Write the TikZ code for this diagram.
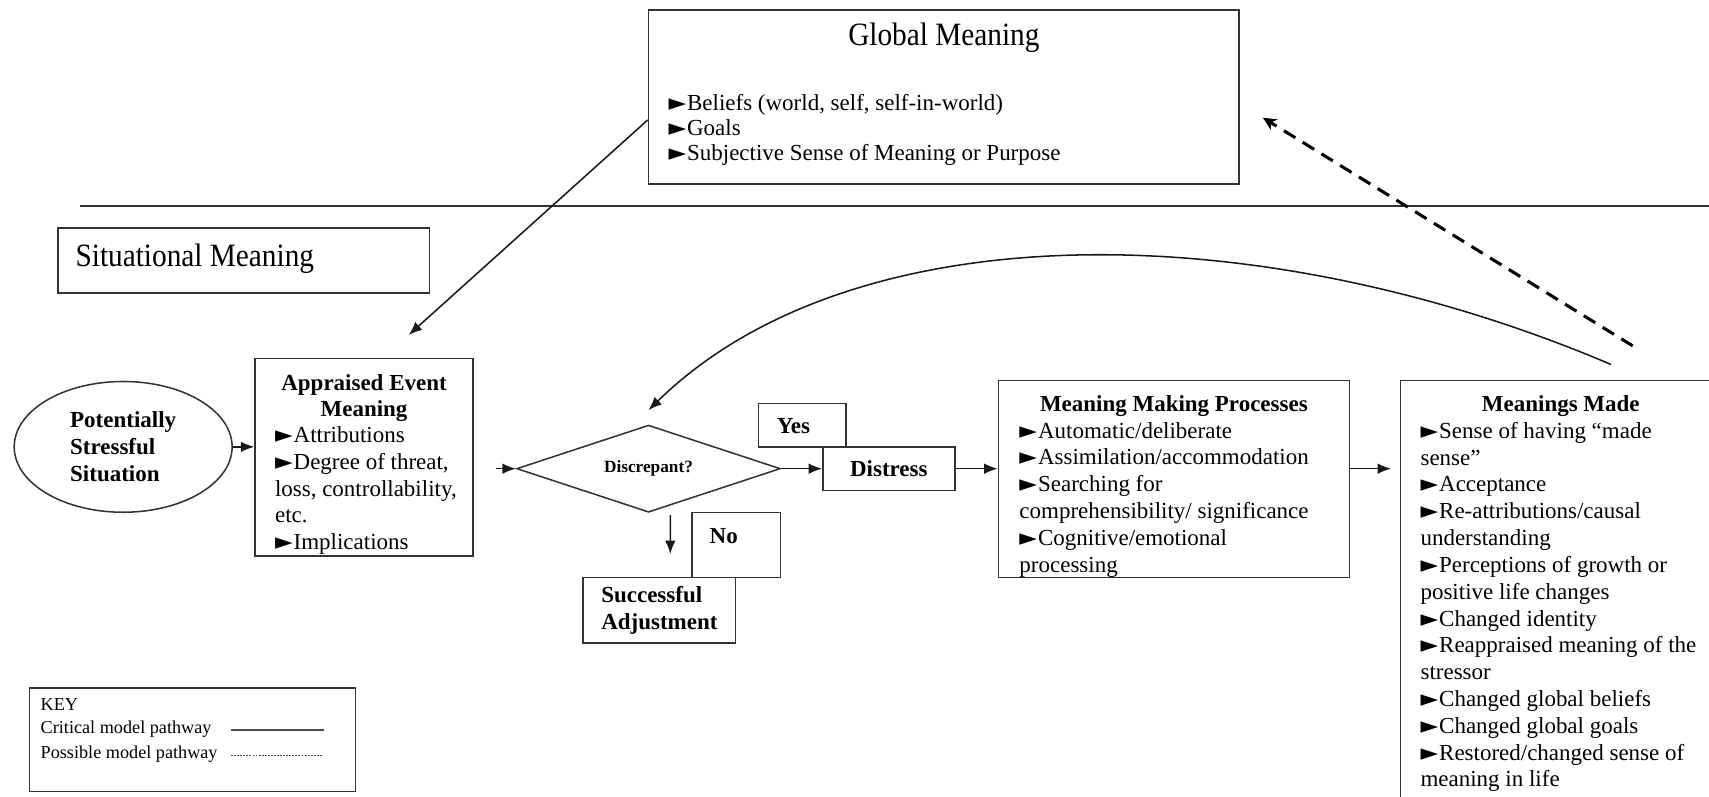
\documentclass[tikz,border=0pt]{standalone}
\usepackage{fontspec}
\setmainfont{Liberation Serif}
\newfontfamily\condfont[FakeStretch=0.9]{Liberation Serif}
\newfontfamily\symfont{DejaVu Sans}
\usepackage{tikz}
\usetikzlibrary{arrows,arrows.meta,shapes,calc,positioning}
\newcommand{\bul}{{\symfont\fontsize{12}{10}\selectfont ►}\hspace{0.5pt}}
\tikzset{
  >=latex',
  box/.style={rectangle, draw=black!80, line width=0.8pt, inner sep=0pt},
  body/.style={font=\fontsize{12}{14}\selectfont, inner sep=0pt, align=left},
  head/.style={font=\bfseries\fontsize{12}{14}\selectfont, inner sep=0pt, align=center},
  bigtitle/.style={font=\condfont\fontsize{17}{20}\selectfont, inner sep=0pt},
  keytext/.style={font=\fontsize{9.5}{11}\selectfont, inner sep=0pt, anchor=west},
  maybe/.style={draw, line width=1.6pt, dash pattern=on 7pt off 4.5pt, -{Stealth[length=7pt,width=6.5pt]}}
}
\tikzstyle{line} = [draw, line width=0.8pt, color=black!90, -{Latex[length=7pt,width=5.5pt]}]

\begin{document}
\begin{tikzpicture}[x=0.02cm, y=-0.02cm]
    \useasboundingbox (0,0) rectangle (1568,731.2);
    % Global meaning
    \node[box, minimum width=10.84cm, minimum height=3.2cm] (global) at (866,89) {};
    \node[bigtitle] (globaltitle) at (866,35) {Global Meaning};
    \node[body, anchor=north west, font=\fontsize{12}{13}\selectfont] (globallist) at (613,86)
         {\bul Beliefs (world, self, self-in-world)\\\bul Goals\\\bul Subjective Sense of Meaning or Purpose};
    \draw[black!80, line width=0.8pt] (73,189) -- (1568,189);
    % Situational meaning
    \node[box, minimum width=6.82cm, minimum height=1.2cm] (situational) at (223.5,239) {};
    \node[bigtitle, anchor=west] (sittitle) at (69,237) {Situational Meaning};
    % Appraisal
    \node[ellipse, draw=black!80, line width=0.8pt, minimum width=4cm, minimum height=2.4cm,
          font=\bfseries\fontsize{12}{14}\selectfont, align=left, inner sep=0pt] (stress) at (113,410)
         {Potentially\\Stressful\\Situation};
    \node[box, minimum width=4cm, minimum height=3.62cm] (appraised) at (334,419.5) {};
    \node[head, anchor=north] (apptitle) at (334,343) {Appraised Event\\Meaning};
    \node[body, anchor=north west] (applist) at (252,391)
         {\bul Attributions\\\bul Degree of threat,\\loss, controllability,\\etc.\\\bul Implications};
    \node[diamond, aspect=3, draw=black!80, line width=0.8pt, minimum width=4.84cm, minimum height=1.6cm,
          inner sep=0pt, font=\bfseries\fontsize{9}{10}\selectfont] (disc) at (595,430) {Discrepant?};
    \node[box, minimum width=1.6cm, minimum height=0.8cm] (yes) at (736,390) {};
    \node[head] (yestext) at (728,391) {Yes};
    \node[box, head, minimum width=2.42cm, minimum height=0.8cm] (distress) at (815.5,430) {Distress};
    \node[box, minimum width=1.62cm, minimum height=1.2cm] (no) at (675.5,500) {};
    \node[head] (notext) at (664,492) {No};
    \node[box, head, align=left, minimum width=2.8cm, minimum height=1.2cm] (success) at (605,560)
         {Successful\\Adjustment};
    % Meaning making
    \node[box, minimum width=6.44cm, minimum height=3.62cm] (mmp) at (1077,439.5) {};
    \node[head, anchor=north] (mmptitle) at (1077,363) {Meaning Making Processes};
    \node[body, anchor=north west] (mmplist) at (935,387)
         {\bul Automatic/deliberate\\\bul Assimilation/accommodation\\\bul Searching for\\
          comprehensibility/ significance\\\bul Cognitive/emotional\\processing};
    \node[box, minimum width=5.9cm, minimum height=7.92cm] (made) at (1432.5,547) {};
    \node[head, anchor=north] (madetitle) at (1432,363) {Meanings Made};
    \node[body, anchor=north west] (madelist) at (1303,387)
         {\bul Sense of having “made\\sense”\\\bul Acceptance\\\bul Re-attributions/causal\\understanding\\
          \bul Perceptions of growth or\\positive life changes\\\bul Changed identity\\
          \bul Reappraised meaning of the\\stressor\\\bul Changed global beliefs\\
          \bul Changed global goals\\\bul Restored/changed sense of\\meaning in life};
    % Key
    \node[box, minimum width=5.98cm, minimum height=1.9cm] (key) at (176.5,678.5) {};
    \node[keytext] (keytitle) at (37,646) {KEY};
    \node[keytext] (crit) at (37,669) {Critical model pathway};
    \node[keytext] (poss) at (37,692) {Possible model pathway};
    \draw[black!70, line width=1pt] (212,670) -- (297,670);
    \draw[black!70, line width=0.4pt, dash pattern=on 1pt off 0.6pt] (212,693) -- (296,693);
    % Pathways
    \draw[line] ([yshift=-0.42cm]global.west) -- ([xshift=0.82cm,yshift=0.42cm]appraised.north);
    \draw[line] (stress.east) -- (stress.east -| appraised.west);
    \coordinate (discin) at ([xshift=-0.36cm]disc.west);
    \draw[line] (discin) -- (disc.west);
    \draw[line] (disc.east) -- (distress.west);
    \draw[line] ([xshift=0.4cm,yshift=-0.04cm]disc.south) -- ([xshift=0.2cm,yshift=0.42cm]success.north);
    \draw[line] (distress.east) -- (distress.east -| mmp.west);
    \draw[line] (mmp.east |- distress) -- ([xshift=-0.16cm]made.west |- distress);
    \draw[line] ([xshift=0.91cm,yshift=0.28cm]made.north) .. controls (1150,195) and (780,195)
          .. ([yshift=0.26cm]disc.north);
    \draw[maybe] ([xshift=1.31cm,yshift=0.62cm]made.north) -- ([xshift=0.42cm,yshift=-0.38cm]global.east);
\end{tikzpicture}
\end{document}
